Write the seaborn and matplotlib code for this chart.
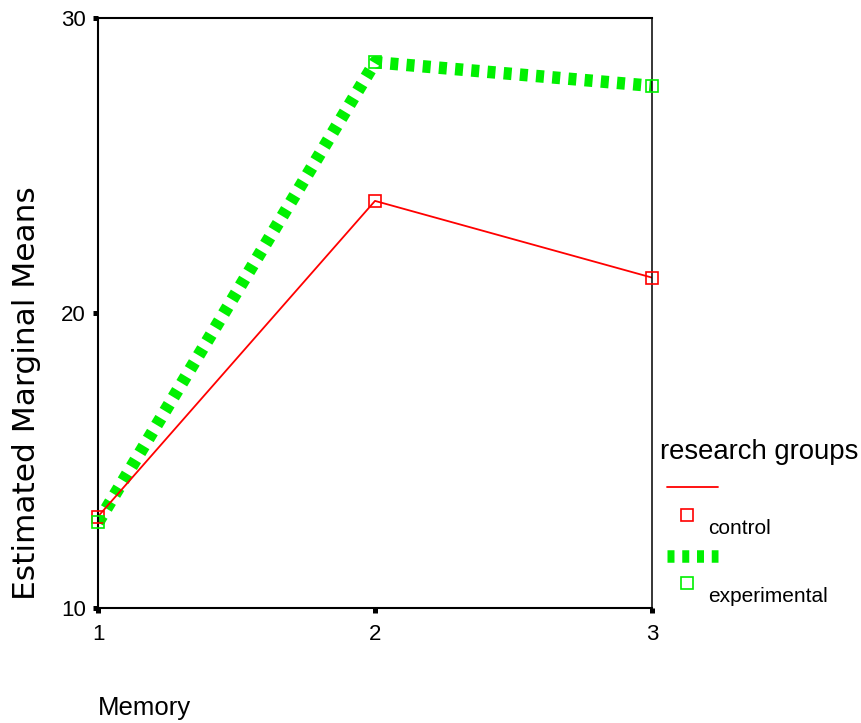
import matplotlib
matplotlib.use("Agg")
import matplotlib.pyplot as plt
from matplotlib.lines import Line2D
import pandas as pd
import seaborn as sns

# values
memory = [1, 2, 3]
control = [13.1, 23.8, 21.2]
experimental = [12.9, 28.5, 27.7]
groups = ["control", "experimental"]
colors = {"control": "#ff0000", "experimental": "#00f000"}

df = pd.DataFrame({
    "Memory": memory * 2,
    "mean": control + experimental,
    "group": [groups[0]] * 3 + [groups[1]] * 3,
})

sns.set_style("white")
plt.rcParams["font.family"] = ["Liberation Sans", "DejaVu Sans"]
plt.rcParams["text.color"] = "black"
plt.rcParams["axes.labelcolor"] = "black"

fig = plt.figure(figsize=(8.62, 7.23), dpi=100)
ax = fig.add_axes([98 / 862, 1 - 608 / 723, (652 - 98) / 862, (608 - 18) / 723])

green_dash = (0, (0.64, 0.66))
green_lw = 9
sns.lineplot(data=df[df.group == "experimental"], x="Memory", y="mean", ax=ax,
             color=colors["experimental"], lw=green_lw, legend=False)
ax.lines[-1].set_linestyle(green_dash)
ax.lines[-1].set_dash_capstyle("butt")
sns.lineplot(data=df[df.group == "control"], x="Memory", y="mean", ax=ax,
             color=colors["control"], lw=1.3, legend=False)

# open square markers
for g in groups:
    sub = df[df.group == g]
    ax.plot(sub["Memory"], sub["mean"], ls="none", marker="s", ms=8.5,
            mfc="none", mec=colors[g], mew=1.2, clip_on=False, zorder=5)

ax.set_xlim(1, 3)
ax.set_ylim(10, 30)
ax.set_xticks(memory)
ax.set_yticks([10, 20, 30])
ax.tick_params(left=True, bottom=True, direction="out", length=3.6, width=3.6,
               labelsize=16, colors="black")
ax.tick_params(axis="y", pad=5)
ax.tick_params(axis="x", pad=8)
for s in ["left", "bottom", "top"]:
    ax.spines[s].set_linewidth(1.5)
ax.spines["right"].set_linewidth(1.1)
for s in ax.spines.values():
    s.set_color("black")

ax.set_xlabel("")
ax.set_ylabel("")
fig.text(27 / 862, 1 - 393 / 723, "Estimated Marginal Means", fontsize=22.5, rotation=90,
         ha="center", va="center", family=["DejaVu Sans"])
fig.text(98 / 862, 1 - 708 / 723, "Memory", fontsize=18.5, ha="left", va="center")

# legend drawn beside the axes like the SPSS output
fy = lambda py: 1 - py / 723
fx = lambda px: px / 862
fig.text(fx(660), fy(452), "research groups", fontsize=19.8, ha="left", va="center")
fig.add_artist(Line2D([fx(667), fx(718)], [fy(487), fy(487)], color=colors["control"], lw=1.3))
fig.add_artist(Line2D([fx(687)], [fy(515)], marker="s", ms=8.5, mfc="none",
                      mec=colors["control"], mew=1.2, ls="none"))
fig.text(fx(708), fy(529), "control", fontsize=15, ha="left", va="center")
fig.add_artist(Line2D([fx(667), fx(718)], [fy(556), fy(556)], color=colors["experimental"],
                      lw=green_lw, ls=(0, (0.56, 0.62)), dash_capstyle="butt"))
fig.add_artist(Line2D([fx(687)], [fy(583)], marker="s", ms=8.5, mfc="none",
                      mec=colors["experimental"], mew=1.2, ls="none"))
fig.text(fx(708), fy(597), "experimental", fontsize=15, ha="left", va="center")

fig.savefig("out.png", dpi=100, facecolor="white")
